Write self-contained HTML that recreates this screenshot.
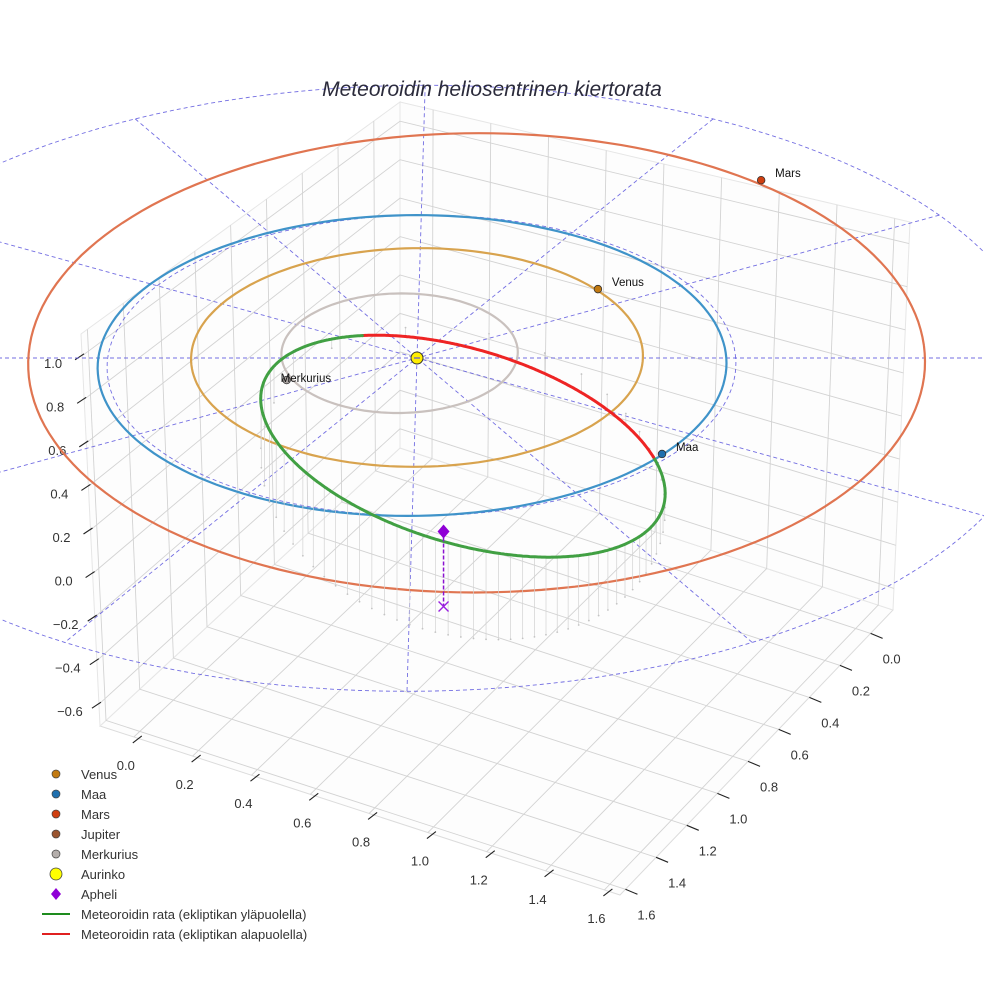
<!DOCTYPE html>
<html><head><meta charset="utf-8"><style>
html,body{margin:0;padding:0;background:#fff;}
svg{display:block;font-family:"Liberation Sans",sans-serif;}
</style></head><body>
<svg id="chart" width="984" height="984" viewBox="0 0 984 984">
<g id="box"></g>
<g id="guides"></g>
<g id="orbits"></g>
<g id="stems"></g>
<g id="meteor"></g>
<g id="marks"></g>
<text x="492" y="96" text-anchor="middle" font-size="21" font-style="italic" fill="#2b2b3b">Meteoroidin heliosentrinen kiertorata</text>
<g id="legend"></g>
</svg>
<script>
// ---- data ----
const xTickValues = [0, 0.2, 0.4, 0.6, 0.8, 1.0, 1.2, 1.4, 1.6];
const yTickValues = [0, 0.2, 0.4, 0.6, 0.8, 1.0, 1.2, 1.4, 1.6];
const zTickValues = [-0.6, -0.4, -0.2, 0.0, 0.2, 0.4, 0.6, 0.8, 1.0];
const orbitNames = ['Merkurius', 'Venus', 'Maa', 'Mars'];
const orbitCx = [-0.056, 0.0, -0.015, 0.19];
const orbitCy = [0.04, 0.03, 0.0, 0.085];
const orbitRx = [0.377, 0.72, 1.0, 1.43];
const orbitRy = [0.40, 0.73, 1.0, 1.535];
const orbitColors = ['#c9c1be', '#d8a34e', '#3f93c9', '#e07551'];
const planetNames = ['Venus', 'Maa', 'Mars', 'Merkurius'];
const planetX = [0.583, 0.765, 1.147, -0.41];
const planetY = [0.47, -0.62, 1.26, -0.146];
const planetColors = ['#c27a12', '#1f6fae', '#cf3f10', '#a9a3a0'];
const meteoroidElements = [0.975, 0.786, 101, -0.21, -0.241]; // a, e, perihelion angle (deg), z slope x, z slope y
const apheliPoint = [0.10, -1.53, 0.315];
const guideRadius = [1.0, 2.0];
const guideAngles = [0, 30, 60, 90, 120, 150];

const NS = 'http://www.w3.org/2000/svg';
function mk(tag, attrs, parent){const e=document.createElementNS(NS,tag);for(const k in attrs)e.setAttribute(k,attrs[k]);parent.appendChild(e);return e;}
function proj(x,y,z){const w=1/(1+0.05*y);return [417+w*(314*x+4.5*y), 358-w*(150*y+220*z)];}
function pts(arr){return arr.map(p=>p[0].toFixed(1)+','+p[1].toFixed(1)).join(' ');}
function lerp(a,b,t){return [a[0]+(b[0]-a[0])*t,a[1]+(b[1]-a[1])*t];}

// ---- box ----
const L=[100,726],F=[620,895],R=[893,610],B=[400,448],LT=[81,334],BT=[400,102],RT=[910,222];
const box=document.getElementById('box');
function floorPt(u,v){return lerp(lerp(L,F,u),lerp(B,R,u),v);}
const uX=v=>0.065+v/1.6*(0.97-0.065);
const vY=v=>0.918-v/1.6*(0.918-0.02);
const hZ=z=>(z+0.7)/1.8;
let p;
p=mk('polygon',{points:pts([L,F,R,B]),fill:'#fdfdfd',stroke:'#dcdcdc','stroke-width':1},box);

p=mk('polygon',{points:pts([L,B,BT,LT]),fill:'#fdfdfd',stroke:'#e6e6e6','stroke-width':1},box);

p=mk('polygon',{points:pts([B,R,RT,BT]),fill:'#fdfdfd',stroke:'#e6e6e6','stroke-width':1},box);

const gs={stroke:'#d3d3d3','stroke-width':0.9,fill:'none'};
xTickValues.forEach(v=>{
  const u=uX(v);
  const a=floorPt(u,0),b=floorPt(u,1),c=lerp(BT,RT,u);
  const l=mk('polyline',Object.assign({points:pts([a,b,c])},gs),box);
  
  const t=mk('line',{x1:a[0]-1,y1:a[1]+6,x2:a[0]+8,y2:a[1]-1,stroke:'#222','stroke-width':1.1},box);
  
  const tx=mk('text',{x:a[0]-8,y:a[1]+33,'text-anchor':'middle','font-size':13,fill:'#333'},box);
  tx.textContent=v.toFixed(1);
  
});
yTickValues.forEach(v=>{
  const s=vY(v);
  const a=floorPt(1,s),b=floorPt(0,s),c=lerp(LT,BT,s);
  const l=mk('polyline',Object.assign({points:pts([a,b,c])},gs),box);
  
  const t=mk('line',{x1:a[0],y1:a[1],x2:a[0]+12,y2:a[1]+5,stroke:'#222','stroke-width':1.1},box);
  
  const tx=mk('text',{x:a[0]+21,y:a[1]+30,'text-anchor':'middle','font-size':13,fill:'#333'},box);
  tx.textContent=v.toFixed(1);
  
});
zTickValues.forEach(v=>{
  const h=hZ(v);
  const a=lerp(L,LT,h),b=lerp(B,BT,h),c=lerp(R,RT,h);
  const l=mk('polyline',Object.assign({points:pts([a,b,c])},gs),box);
  
  const t=mk('line',{x1:a[0]-7,y1:a[1]+4,x2:a[0]+2,y2:a[1]-2,stroke:'#222','stroke-width':1.1},box);
  
  const tx=mk('text',{x:a[0]-29,y:a[1]+12,'text-anchor':'middle','font-size':13,fill:'#333'},box);
  tx.textContent=(v<0?'\u2212':'')+Math.abs(v).toFixed(1);
  
});

// ---- guides ----
const guides=document.getElementById('guides');
const gStyle={stroke:'#5a55dd','stroke-width':0.9,'stroke-dasharray':'4,3',fill:'none',opacity:0.85};
guideRadius.forEach(r=>{
  const arr=[];for(let k=0;k<=360;k+=2){const t=k*Math.PI/180;arr.push(proj(r*Math.cos(t)+(r<1.5?0.015:0),r*Math.sin(t),0));}
  const c=mk('polyline',Object.assign({points:pts(arr)},gStyle),guides);
  
});
guideAngles.forEach(d=>{
  const t=d*Math.PI/180,r=guideRadius[1];
  const a=proj(r*Math.cos(t),r*Math.sin(t),0),b=proj(-r*Math.cos(t),-r*Math.sin(t),0);
  const l=mk('line',Object.assign({x1:a[0],y1:a[1],x2:b[0],y2:b[1]},gStyle),guides);
  
});

// ---- planet orbits ----
const orbits=document.getElementById('orbits');
orbitNames.forEach((n,i)=>{
  const arr=[];for(let k=0;k<=360;k+=2){const t=k*Math.PI/180;arr.push(proj(orbitCx[i]+orbitRx[i]*Math.cos(t),orbitCy[i]+orbitRy[i]*Math.sin(t),0));}
  const o=mk('polyline',{points:pts(arr),stroke:orbitColors[i],'stroke-width':2.2,fill:'none'},orbits);
  
});

// ---- meteoroid ----
const [ma,me,mw,kx,ky]=meteoroidElements;
const mb=ma*Math.sqrt(1-me*me);
const ux=Math.cos(mw*Math.PI/180),uy=Math.sin(mw*Math.PI/180),vx=-uy,vy=ux;
function orbPt(E){const p1=ma*(Math.cos(E)-me),p2=mb*Math.sin(E);const x=p1*ux+p2*vx,y=p1*uy+p2*vy;return [x,y,kx*x+ky*y];}
const stems=document.getElementById('stems');
for(let k=0;k<60;k++){
  const M=k/60*2*Math.PI;let E=M;for(let it=0;it<30;it++)E=E-(E-me*Math.sin(E)-M)/(1-me*Math.cos(E));
  const q=orbPt(E),a=proj(q[0],q[1],q[2]),b=proj(q[0],q[1],0);
  const s=mk('line',{x1:a[0],y1:a[1],x2:b[0],y2:b[1],stroke:'#d2d2d2','stroke-width':0.7},stems);
  
  const d=mk('circle',{cx:b[0],cy:b[1],r:0.9,fill:'#c4c4c4'},stems);
  
}
const meteor=document.getElementById('meteor');
let seg=[],sign=null;
function flush(){if(seg.length>1){const l=mk('polyline',{points:pts(seg),stroke:sign<0?'#ee2424':'#41a043','stroke-width':3,fill:'none','stroke-linecap':'round'},meteor);
  }}
for(let k=0;k<=720;k++){
  const q=orbPt(k/720*2*Math.PI),s=q[2]<0?-1:1,P=proj(q[0],q[1],q[2]);
  if(sign!==null&&s!==sign){seg.push(P);flush();seg=[P];}else seg.push(P);
  sign=s;
}
flush();

// ---- markers ----
const marks=document.getElementById('marks');
const ap=proj(apheliPoint[0],apheliPoint[1],apheliPoint[2]),ap0=proj(apheliPoint[0],apheliPoint[1],0);
let m=mk('line',{x1:ap[0],y1:ap[1],x2:ap0[0],y2:ap0[1],stroke:'#8a12d0','stroke-width':1.5,'stroke-dasharray':'4,2'},marks);

m=mk('path',{d:`M${ap0[0]-5},${ap0[1]-5}L${ap0[0]+5},${ap0[1]+5}M${ap0[0]+5},${ap0[1]-5}L${ap0[0]-5},${ap0[1]+5}`,stroke:'#9a1fe0','stroke-width':1.4},marks);

m=mk('polygon',{points:`${ap[0]},${ap[1]-7} ${ap[0]+6},${ap[1]} ${ap[0]},${ap[1]+7} ${ap[0]-6},${ap[1]}`,fill:'#8f00d6'},marks);

const sun=proj(0,0,0);
m=mk('circle',{cx:sun[0],cy:sun[1],r:6,fill:'#ffee00',stroke:'#333','stroke-width':1},marks);

m=mk('line',{x1:sun[0]-3,y1:sun[1],x2:sun[0]+3,y2:sun[1],stroke:'#5a55dd','stroke-width':1.2},marks);

planetNames.forEach((n,i)=>{
  const P=proj(planetX[i],planetY[i],0);
  const c=mk('circle',{cx:P[0],cy:P[1],r:3.8,fill:planetColors[i],stroke:'#333','stroke-width':0.8},marks);
  
  const t=mk('text',{x:n==='Merkurius'?P[0]-6:P[0]+14,y:P[1]+(n==='Merkurius'?2:-3),'font-size':11.5,fill:'#111'},marks);
  t.textContent=n;
  
});

// ---- legend ----
const legendLabels=['Venus','Maa','Mars','Jupiter','Merkurius','Aurinko','Apheli','Meteoroidin rata (ekliptikan yläpuolella)','Meteoroidin rata (ekliptikan alapuolella)'];
const legendColors=['#c27a12','#1f6fae','#cf3f10','#9a5530','#b4aeab','#ffff00','#8f00d6','#1e8c1e','#e02020'];
const legend=document.getElementById('legend');
legendLabels.forEach((lab,i)=>{
  const y=774+i*20;
  const g=mk('g',{},legend);
  
  let s;
  if(i<5)s=mk('circle',{cx:56,cy:y,r:4,fill:legendColors[i],stroke:'#444','stroke-width':0.7},g);
  else if(i===5)s=mk('circle',{cx:56,cy:y,r:6,fill:legendColors[i],stroke:'#444','stroke-width':0.8},g);
  else if(i===6)s=mk('polygon',{points:`56,${y-6} 61,${y} 56,${y+6} 51,${y}`,fill:legendColors[i]},g);
  else s=mk('line',{x1:42,y1:y,x2:70,y2:y,stroke:legendColors[i],'stroke-width':2},g);
  
  const t=mk('text',{x:81,y:y+5,'font-size':13,fill:'#333'},g);
  t.textContent=lab;
  
});
</script>
</body></html>
